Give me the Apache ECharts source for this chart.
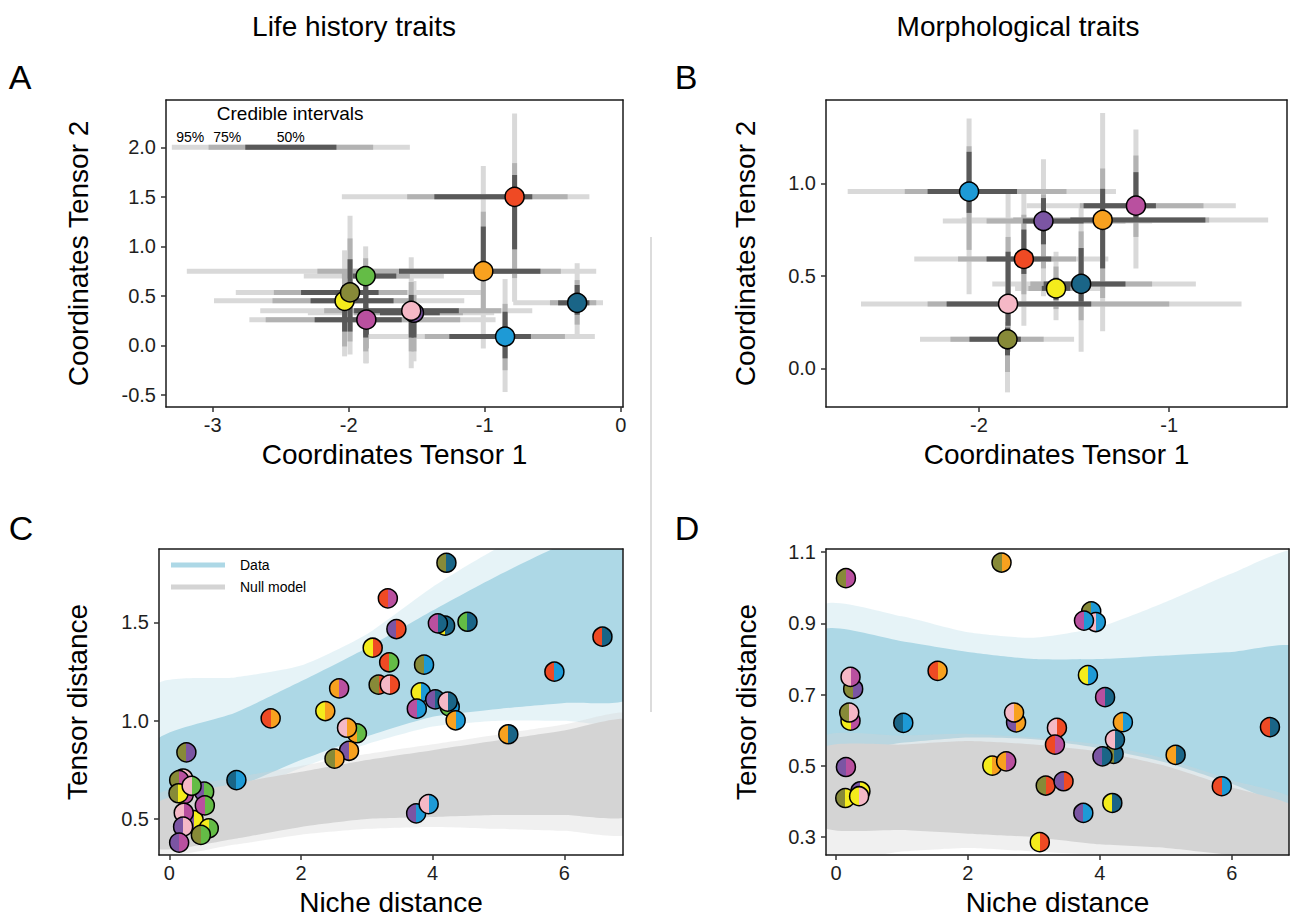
<!DOCTYPE html>
<html><head><meta charset="utf-8">
<script src="https://cdn.jsdelivr.net/npm/echarts@6/dist/echarts.min.js"></script>
<style>html,body{margin:0;padding:0;background:#fff}#c{width:1294px;height:919px}</style>
</head><body><div id="c"></div>
<script>
// ---------- colours of species ----------
const PAL = {red:'#EF4A24', orange:'#F8A11F', teal:'#1A6587', blue:'#1E9AD6', green:'#64BC46',
  olive:'#878A38', yellow:'#F4EC1C', pink:'#F5B8C6', magenta:'#B9509F', purple:'#7B55A3'};
const CI_LIGHT = '#D9D9D9', CI_MID = '#B2B2B2', CI_DARK = '#595959';
const BLUE_BAND = '#ADD8E6', GREY_BAND = '#D4D4D4';

// ---------- Panel A: life history tensor coordinates ----------
const aSpecies = ['purple','pink','yellow','olive','green','magenta','orange','red','teal','blue'];
const aX = [-1.52, -1.54, -2.03, -1.99, -1.875, -1.87, -1.01, -0.78, -0.32, -0.85];
const aY = [0.33, 0.35, 0.45, 0.535, 0.70, 0.26, 0.75, 1.50, 0.43, 0.09];
// CI order: 95lo, 75lo, 50lo, 50hi, 75hi, 95hi
const aXCI = [
  [-2.30,-1.96,-1.77,-1.33,-1.16,-0.93],
  [-2.65,-2.18,-1.96,-1.19,-0.88,-0.65],
  [-2.99,-2.56,-2.28,-1.67,-1.53,-1.15],
  [-2.83,-2.55,-2.35,-1.78,-1.57,-1.02],
  [-2.33,-2.05,-1.97,-1.65,-1.55,-1.30],
  [-2.73,-2.61,-2.25,-1.61,-1.18,-0.92],
  [-3.19,-2.23,-1.63,-0.59,-0.44,-0.18],
  [-2.05,-1.57,-1.37,-0.65,-0.39,-0.23],
  [-0.79,-0.52,-0.46,-0.23,-0.18,-0.13],
  [-1.87,-1.44,-1.26,-0.66,-0.41,-0.19]
];
const aYCI = [
  [-0.16,-0.06,0.08,0.38,0.51,0.65],
  [-0.23,-0.06,0.08,0.51,0.64,0.89],
  [-0.11,-0.01,0.14,0.61,0.75,0.96],
  [-0.09,0.04,0.14,0.87,1.08,1.31],
  [-0.18,-0.06,0.08,0.78,0.88,1.00],
  [-0.18,-0.03,0.11,0.38,0.51,0.75],
  [-0.03,0.34,0.65,1.20,1.35,1.81],
  [0.44,0.68,0.97,1.72,1.84,2.34],
  [0.09,0.21,0.31,0.61,0.66,0.83],
  [-0.47,-0.25,-0.13,0.34,0.42,0.67]
];
// credible-interval legend (drawn in panel A data space)
const ciLegendBreaks = [-3.30, -3.03, -2.76, -2.09, -1.82, -1.55];
const ciLegendY = 2.0;
const ciLegendLabels = ['95%', '75%', '50%'];
const ciLegendLabelX = [-3.165, -2.893, -2.426];
const ciLegendLabelY = 2.107;
const ciLegendTitle = 'Credible intervals';
const ciLegendTitleXY = [-2.43, 2.343];

// ---------- Panel B: morphological tensor coordinates ----------
const bSpecies = ['olive','pink','yellow','teal','red','orange','purple','magenta','blue'];
const bX = [-1.85, -1.847, -1.595, -1.463, -1.764, -1.35, -1.661, -1.175, -2.052];
const bY = [0.157, 0.348, 0.432, 0.456, 0.591, 0.802, 0.796, 0.879, 0.955];
const bXCI = [
  [-2.31,-2.15,-2.05,-1.78,-1.66,-1.50],
  [-2.62,-2.27,-2.17,-1.41,-1.00,-0.62],
  [-1.81,-1.74,-1.67,-1.52,-1.45,-1.36],
  [-1.93,-1.73,-1.66,-1.23,-1.09,-0.86],
  [-2.34,-2.11,-1.96,-1.62,-1.49,-1.32],
  [-2.09,-1.82,-1.52,-0.81,-0.79,-0.48],
  [-2.19,-1.96,-1.77,-1.45,-1.23,-1.09],
  [-1.75,-1.47,-1.45,-1.07,-0.82,-0.65],
  [-2.69,-2.39,-2.27,-1.80,-1.54,-1.28]
];
const bYCI = [
  [-0.13,-0.02,0.07,0.22,0.25,0.32],
  [0.09,0.16,0.23,0.63,0.71,0.95],
  [0.26,0.32,0.37,0.49,0.55,0.63],
  [0.09,0.26,0.36,0.65,0.74,0.87],
  [0.23,0.40,0.51,0.75,0.83,0.95],
  [0.20,0.38,0.54,0.97,1.08,1.38],
  [0.39,0.54,0.67,0.92,0.94,1.13],
  [0.54,0.71,0.81,1.06,1.15,1.29],
  [0.40,0.64,0.84,1.17,1.20,1.35]
];

// ---------- Panel C: life history pairwise distances ----------
const cX = [4.19,4.26,2.85,0.21,0.22,0.37,4.21,3.32,3.45,4.08,4.53,6.58,3.09,3.34,3.87,5.85,2.58,3.18,3.35,3.82,4.04,3.76,4.23,4.35,5.15,2.37,1.54,2.70,2.73,2.51,0.26,1.02,0.15,0.53,0.14,0.34,0.54,0.22,0.60,0.21,0.48,0.15,3.75,3.94];
const cY = [1.483,1.071,0.936,0.706,0.625,0.495,1.803,1.622,1.466,1.495,1.503,1.427,1.371,1.297,1.285,1.249,1.164,1.183,1.183,1.144,1.108,1.061,1.097,1.002,0.931,1.049,1.012,0.964,0.847,0.807,0.839,0.698,0.698,0.639,0.631,0.669,0.569,0.532,0.453,0.461,0.419,0.380,0.529,0.576];
const cLeft = ['yellow','green','orange','olive','yellow','purple','olive','red','purple','magenta','green','red','yellow','red','olive','red','orange','olive','pink','yellow','purple','magenta','pink','orange','orange','yellow','red','pink','purple','olive','olive','teal','olive','purple','olive','pink','magenta','pink','yellow','purple','olive','purple','purple','pink'];
const cRight = ['teal','blue','green','pink','magenta','yellow','teal','magenta','red','teal','teal','teal','red','green','blue','blue','magenta','red','red','blue','teal','blue','teal','blue','teal','orange','orange','orange','orange','orange','purple','blue','magenta','green','yellow','green','green','magenta','green','pink','green','magenta','blue','blue'];
const cBandX = [-0.2, 1, 2, 3, 4, 5, 6, 7];
const cDataLo = [0.55, 0.66, 0.80, 0.92, 1.02, 1.06, 1.09, 1.12];
const cDataHi = [0.90, 1.04, 1.20, 1.37, 1.56, 1.74, 1.90, 2.02];
const cDataLoOuter = [0.50, 0.62, 0.76, 0.88, 0.97, 1.00, 1.00, 1.00];
const cDataHiOuter = [1.18, 1.22, 1.28, 1.44, 1.68, 1.88, 2.02, 2.15];
const cNullLo = [0.35, 0.40, 0.46, 0.50, 0.51, 0.52, 0.52, 0.52];
const cNullHi = [0.58, 0.68, 0.74, 0.80, 0.85, 0.90, 0.95, 1.00];
const cNullLoOuter = [0.32, 0.37, 0.42, 0.45, 0.46, 0.45, 0.44, 0.43];
const cNullHiOuter = [0.62, 0.71, 0.77, 0.83, 0.88, 0.93, 0.98, 1.03];

// ---------- Panel D: morphological pairwise distances ----------
const dX = [3.87,3.94,3.76,0.26,0.22,0.22,0.20,2.73,2.70,4.21,4.04,4.23,3.35,3.32,0.37,0.14,0.35,2.51,0.15,1.54,3.82,4.08,1.02,4.35,6.58,5.15,0.15,2.37,2.58,3.18,3.45,5.85,3.75,4.19,3.09];
const dY = [0.934,0.904,0.908,0.716,0.750,0.627,0.650,0.622,0.650,0.534,0.527,0.574,0.607,0.560,0.429,0.410,0.415,1.071,1.027,0.767,0.755,0.693,0.621,0.623,0.609,0.531,0.497,0.501,0.513,0.445,0.457,0.443,0.368,0.396,0.286];
const dLeft = ['olive','pink','magenta','olive','pink','yellow','olive','purple','pink','olive','purple','pink','pink','red','purple','olive','yellow','olive','olive','red','yellow','magenta','teal','orange','red','orange','purple','yellow','orange','olive','purple','red','purple','yellow','yellow'];
const dRight = ['blue','blue','blue','purple','magenta','magenta','pink','orange','orange','teal','teal','teal','red','magenta','yellow','yellow','pink','orange','magenta','orange','blue','teal','blue','blue','teal','teal','magenta','orange','magenta','red','red','blue','blue','teal','red'];
const dBandX = [-0.2, 1, 2, 3, 4, 5, 6, 7];
const dDataLo = [0.54, 0.565, 0.58, 0.575, 0.55, 0.51, 0.45, 0.39];
const dDataHi = [0.88, 0.85, 0.82, 0.80, 0.80, 0.81, 0.82, 0.83];
const dDataLoOuter = [0.50, 0.53, 0.55, 0.55, 0.52, 0.47, 0.40, 0.34];
const dDataHiOuter = [0.95, 0.92, 0.875, 0.86, 0.89, 0.96, 1.04, 1.10];
const dNullLo = [0.33, 0.32, 0.31, 0.30, 0.28, 0.27, 0.25, 0.23];
const dNullHi = [0.55, 0.56, 0.57, 0.56, 0.54, 0.50, 0.44, 0.38];
const dNullLoOuter = [0.24, 0.26, 0.27, 0.26, 0.25, 0.23, 0.21, 0.19];
const dNullHiOuter = [0.58, 0.585, 0.59, 0.58, 0.56, 0.52, 0.46, 0.40];

// ---------- tick labels ----------
const aXTicks = [-3, -2, -1, 0], aYTicks = [-0.5, 0, 0.5, 1.0, 1.5, 2.0];
const bXTicks = [-2, -1], bYTicks = [0, 0.5, 1.0];
const cXTicks = [0, 2, 4, 6], cYTicks = [0.5, 1.0, 1.5];
const dXTicks = [0, 2, 4, 6], dYTicks = [0.3, 0.5, 0.7, 0.9, 1.1];

// ================= chart =================
const FONT = '"Liberation Sans", Arial, Helvetica, sans-serif';
const chart = echarts.init(document.getElementById('c'), null, {renderer: 'svg', width: 1294, height: 919});

const grids = [
  {left: 166, top: 100, width: 457, height: 307},
  {left: 826, top: 100, width: 461, height: 307},
  {left: 159, top: 549, width: 464, height: 306},
  {left: 826, top: 549, width: 463, height: 306}
];

const intFmt = v => String(Math.round(v));
const decFmt = v => v.toFixed(1);

function xAx(g, min, max, ticks, fmt, name) {
  return {
    type: 'value', gridIndex: g, min, max, position: 'bottom', z: 10,
    axisLine: {show: true, onZero: false, lineStyle: {color: '#1a1a1a', width: 1.5}},
    axisTick: {show: true, length: 5, customValues: ticks, lineStyle: {color: '#333', width: 1.5}},
    axisLabel: {customValues: ticks, formatter: fmt, fontSize: 20, color: '#1e1e1e', fontFamily: FONT, margin: 8},
    splitLine: {show: false},
    name, nameLocation: 'middle', nameGap: 33,
    nameTextStyle: {fontSize: 28, color: '#000', fontFamily: FONT}
  };
}
function yAx(g, min, max, ticks, fmt, name, gap) {
  return {
    type: 'value', gridIndex: g, min, max, position: 'left', z: 10,
    axisLine: {show: true, onZero: false, lineStyle: {color: '#1a1a1a', width: 1.5}},
    axisTick: {show: true, length: 5, customValues: ticks, lineStyle: {color: '#333', width: 1.5}},
    axisLabel: {customValues: ticks, formatter: fmt, fontSize: 20, color: '#1e1e1e', fontFamily: FONT, margin: 10},
    splitLine: {show: false},
    name, nameLocation: 'middle', nameGap: gap,
    nameTextStyle: {fontSize: 28, color: '#000', fontFamily: FONT}
  };
}
function frameAx(g, min, max, pos) {
  return {
    type: 'value', gridIndex: g, min, max, position: pos, z: 10,
    axisLine: {show: true, onZero: false, lineStyle: {color: '#1a1a1a', width: 1.5}},
    axisTick: {show: false}, axisLabel: {show: false}, splitLine: {show: false}
  };
}

const xRanges = [[-3.343, 0.017], [-2.804, -0.381], [-0.156, 6.892], [-0.152, 6.869]];
const yRanges = [[-0.621, 2.477], [-0.209, 1.450], [0.317, 1.873], [0.250, 1.109]];

const xAxes = [
  xAx(0, ...xRanges[0], aXTicks, intFmt, 'Coordinates Tensor 1'),
  xAx(1, ...xRanges[1], bXTicks, intFmt, 'Coordinates Tensor 1'),
  xAx(2, ...xRanges[2], cXTicks, intFmt, 'Niche distance'),
  xAx(3, ...xRanges[3], dXTicks, intFmt, 'Niche distance'),
  frameAx(0, ...xRanges[0], 'top'), frameAx(1, ...xRanges[1], 'top'),
  frameAx(2, ...xRanges[2], 'top'), frameAx(3, ...xRanges[3], 'top')
];
const yAxes = [
  yAx(0, ...yRanges[0], aYTicks, decFmt, 'Coordinates Tensor 2', 74),
  yAx(1, ...yRanges[1], bYTicks, decFmt, 'Coordinates Tensor 2', 67),
  yAx(2, ...yRanges[2], cYTicks, decFmt, 'Tensor distance', 68),
  yAx(3, ...yRanges[3], dYTicks, decFmt, 'Tensor distance', 66),
  frameAx(0, ...yRanges[0], 'right'), frameAx(1, ...yRanges[1], 'right'),
  frameAx(2, ...yRanges[2], 'right'), frameAx(3, ...yRanges[3], 'right')
];

function ciSeries(ax, xs, ys, xci, yci, lo, hi, color) {
  return {
    type: 'custom', xAxisIndex: ax, yAxisIndex: ax, z: 2, silent: true, clip: false,
    data: xs.map((x, i) => [x, ys[i]]),
    renderItem(params, api) {
      const i = params.dataIndex;
      const h1 = api.coord([xci[i][lo], ys[i]]), h2 = api.coord([xci[i][hi], ys[i]]);
      const v1 = api.coord([xs[i], yci[i][lo]]), v2 = api.coord([xs[i], yci[i][hi]]);
      return {type: 'group', children: [
        {type: 'line', shape: {x1: h1[0], y1: h1[1], x2: h2[0], y2: h2[1]}, style: {stroke: color, lineWidth: 5, fill: null}},
        {type: 'line', shape: {x1: v1[0], y1: v1[1], x2: v2[0], y2: v2[1]}, style: {stroke: color, lineWidth: 5, fill: null}}
      ]};
    }
  };
}
function pointSeries(ax, xs, ys, sp) {
  return {
    type: 'scatter', xAxisIndex: ax, yAxisIndex: ax, z: 3, silent: true, symbolSize: 19,
    itemStyle: {borderColor: '#000', borderWidth: 1.5, opacity: 1},
    data: xs.map((x, i) => ({value: [x, ys[i]], itemStyle: {color: PAL[sp[i]]}}))
  };
}
function splitGrad(a, b) {
  return {type: 'linear', x: 0, y: 0, x2: 1, y2: 0, global: false, colorStops: [
    {offset: 0, color: PAL[a]}, {offset: 0.5, color: PAL[a]},
    {offset: 0.5, color: PAL[b]}, {offset: 1, color: PAL[b]}]};
}
function pairSeries(ax, xs, ys, L, R) {
  return {
    type: 'scatter', xAxisIndex: ax, yAxisIndex: ax, z: 3, silent: true, symbolSize: 19,
    itemStyle: {borderColor: '#000', borderWidth: 1.5, opacity: 1},
    data: xs.map((x, i) => ({value: [x, ys[i]], itemStyle: {color: splitGrad(L[i], R[i])}}))
  };
}
function bandSeries(ax, name, xs, lo, hi, color, opacity) {
  return {
    type: 'custom', name, xAxisIndex: ax, yAxisIndex: ax, z: 1, silent: true, clip: true,
    itemStyle: {color},
    data: [[xs[0], lo[0]]],
    renderItem(params, api) {
      const pts = [];
      for (let i = 0; i < xs.length; i++) pts.push(api.coord([xs[i], hi[i]]));
      for (let i = xs.length - 1; i >= 0; i--) pts.push(api.coord([xs[i], lo[i]]));
      return {type: 'polygon', shape: {points: pts, smooth: 0.2}, style: {fill: color, opacity, stroke: null}};
    }
  };
}
const legendSeries = {
  type: 'custom', xAxisIndex: 0, yAxisIndex: 0, z: 2, silent: true, clip: false,
  data: [[ciLegendBreaks[0], ciLegendY]],
  renderItem(params, api) {
    const seg = (a, b, c) => {
      const p1 = api.coord([ciLegendBreaks[a], ciLegendY]), p2 = api.coord([ciLegendBreaks[b], ciLegendY]);
      return {type: 'line', shape: {x1: p1[0], y1: p1[1], x2: p2[0], y2: p2[1]}, style: {stroke: c, lineWidth: 5, fill: null}};
    };
    const txt = (s, x, y, size) => {
      const p = api.coord([x, y]);
      return {type: 'text', x: p[0], y: p[1], style: {text: s, font: size + 'px ' + FONT, fill: '#000',
        align: 'center', verticalAlign: 'middle', textAlign: 'center', textVerticalAlign: 'middle'}};
    };
    const kids = [seg(0, 5, CI_LIGHT), seg(1, 4, CI_MID), seg(2, 3, CI_DARK)];
    ciLegendLabels.forEach((s, i) => kids.push(txt(s, ciLegendLabelX[i], ciLegendLabelY, 14)));
    kids.push(txt(ciLegendTitle, ciLegendTitleXY[0], ciLegendTitleXY[1], 19));
    return {type: 'group', children: kids};
  }
};

const series = [
  // panel A
  ciSeries(0, aX, aY, aXCI, aYCI, 0, 5, CI_LIGHT),
  ciSeries(0, aX, aY, aXCI, aYCI, 1, 4, CI_MID),
  ciSeries(0, aX, aY, aXCI, aYCI, 2, 3, CI_DARK),
  legendSeries,
  pointSeries(0, aX, aY, aSpecies),
  // panel B
  ciSeries(1, bX, bY, bXCI, bYCI, 0, 5, CI_LIGHT),
  ciSeries(1, bX, bY, bXCI, bYCI, 1, 4, CI_MID),
  ciSeries(1, bX, bY, bXCI, bYCI, 2, 3, CI_DARK),
  pointSeries(1, bX, bY, bSpecies),
  // panel C
  bandSeries(2, 'Data outer', cBandX, cDataLoOuter, cDataHiOuter, BLUE_BAND, 0.3),
  bandSeries(2, 'Data', cBandX, cDataLo, cDataHi, BLUE_BAND, 1),
  bandSeries(2, 'Null outer', cBandX, cNullLoOuter, cNullHiOuter, GREY_BAND, 0.35),
  bandSeries(2, 'Null model', cBandX, cNullLo, cNullHi, GREY_BAND, 1),
  pairSeries(2, cX, cY, cLeft, cRight),
  // panel D
  bandSeries(3, 'Data outer D', dBandX, dDataLoOuter, dDataHiOuter, BLUE_BAND, 0.3),
  bandSeries(3, 'Data D', dBandX, dDataLo, dDataHi, BLUE_BAND, 1),
  bandSeries(3, 'Null outer D', dBandX, dNullLoOuter, dNullHiOuter, GREY_BAND, 0.35),
  bandSeries(3, 'Null model D', dBandX, dNullLo, dNullHi, GREY_BAND, 1),
  pairSeries(3, dX, dY, dLeft, dRight)
];

const T = (text, x, y, size, align) => ({type: 'text', x, y, z: 20, style: {text, font: size + 'px ' + FONT, fill: '#000',
  align: align || 'center', verticalAlign: 'middle', textAlign: align || 'center', textVerticalAlign: 'middle'}});

chart.setOption({
  animation: false,
  backgroundColor: '#fff',
  grid: grids,
  xAxis: xAxes,
  yAxis: yAxes,
  series,
  graphic: [
    T('Life history traits', 354, 26, 28),
    T('Morphological traits', 1018, 26, 28),
    T('A', 20, 77, 34), T('B', 686, 77, 34),
    T('C', 21, 528, 34), T('D', 687, 528, 34),
    {type: 'line', z: 20, shape: {x1: 651, y1: 237, x2: 651, y2: 712}, style: {stroke: '#d0d0d0', lineWidth: 1.5}},
    // legend of panel C
    {type: 'line', z: 20, shape: {x1: 171, y1: 565, x2: 225, y2: 565}, style: {stroke: BLUE_BAND, lineWidth: 5}},
    {type: 'line', z: 20, shape: {x1: 171, y1: 587, x2: 225, y2: 587}, style: {stroke: GREY_BAND, lineWidth: 5}},
    T('Data', 240, 565, 14, 'left'),
    T('Null model', 240, 587, 14, 'left')
  ]
});
</script>
</body></html>
